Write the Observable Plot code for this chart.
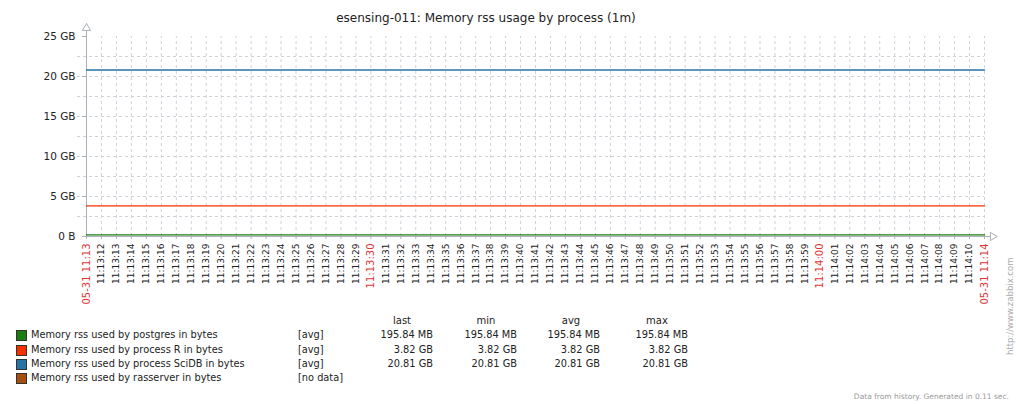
<!DOCTYPE html>
<html><head><meta charset="utf-8">
<script src="https://cdn.jsdelivr.net/npm/d3@7"></script>
<script src="https://cdn.jsdelivr.net/npm/@observablehq/plot@0.6"></script>
<style>
body{margin:0;background:#fff;font-family:"DejaVu Sans",sans-serif;}
#wrap{position:relative;width:1016px;height:404px;overflow:hidden;background:#fff}
#wrap svg{position:absolute;left:0;top:0}
.abs{position:absolute;white-space:nowrap;line-height:12px;color:#222}
</style></head><body><div id="wrap"></div>
<script>
const chartTitle = "esensing-011: Memory rss usage by process (1m)";
const seriesNames = ["Memory rss used by postgres in bytes","Memory rss used by process R in bytes","Memory rss used by process SciDB in bytes","Memory rss used by rasserver in bytes"];
const seriesColors = ["#1A7C11","#F63100","#2774A4","#A54F10"];
const seriesFunc = ["[avg]","[avg]","[avg]","[no data]"];
const seriesGB = [0.19125, 3.82, 20.81, null];
const lastLabels = ["195.84 MB","3.82 GB","20.81 GB",""];
const minLabels  = ["195.84 MB","3.82 GB","20.81 GB",""];
const avgLabels  = ["195.84 MB","3.82 GB","20.81 GB",""];
const maxLabels  = ["195.84 MB","3.82 GB","20.81 GB",""];
const statHeaders = ["last","min","avg","max"];
const yTicks = [0,5,10,15,20,25];
const yTickLabels = ["0 B","5 GB","10 GB","15 GB","20 GB","25 GB"];
const yGrid = [2.5,5,7.5,10,12.5,15,17.5,20,22.5];
const startTime = new Date(2018,4,31,11,13,11);
const endTime = new Date(2018,4,31,11,14,11);
const footerText = "Data from history. Generated in 0.11 sec.";
const sideText = "http://www.zabbix.com";

// one tick per second
const secTicks = d3.timeSecond.range(startTime, new Date(+endTime + 1000));
const redTicks = secTicks.filter((d,i) => i === 0 || i === secTicks.length-1 || d.getSeconds() === 30 || d.getSeconds() === 0);
const blackTicks = secTicks.filter(d => !redTicks.includes(d));
const fmtSec = d3.timeFormat("%H:%M:%S");
const fmtEdge = d3.timeFormat("%m-%d %H:%M");
const redFmt = d => (+d === +startTime || +d === +endTime) ? fmtEdge(d) : fmtSec(d);

const rows = [];
seriesNames.forEach((s,i) => {
  if (seriesGB[i] == null) return;
  rows.push({series:s, time:startTime, gb:seriesGB[i]});
  rows.push({series:s, time:endTime, gb:seriesGB[i]});
});

const gridCol = "#cdd3d9", axisCol = "#a9b1b9";
const plot = Plot.plot({
  width:1016, height:404,
  marginLeft:86, marginRight:32, marginTop:36, marginBottom:168,
  style:{fontFamily:"DejaVu Sans, sans-serif", background:"transparent", overflow:"visible"},
  x:{type:"time", domain:[startTime,endTime]},
  y:{domain:[0,25]},
  color:{domain:seriesNames, range:seriesColors},
  marks:[
    Plot.ruleY(yGrid, {stroke:gridCol, strokeDasharray:"3,3", x1:new Date(+startTime-600), x2:endTime, clip:false}),
    Plot.ruleX(secTicks.slice(1), {stroke:gridCol, strokeDasharray:"3,3", y1:0, y2:25}),
    Plot.ruleY([0], {stroke:axisCol, x1:startTime, x2:new Date(+endTime+450)}),
    Plot.ruleX([startTime], {stroke:axisCol, y1:0, y2:25.8}),
    Plot.dot([{t:startTime, v:26.05}], {x:"t", y:"v", symbol:"triangle", r:3, stroke:axisCol, fill:"white", strokeWidth:1}),
    Plot.dot([{t:new Date(+endTime+550), v:0}], {x:"t", y:"v", symbol:"triangle", rotate:90, r:3, stroke:axisCol, fill:"white", strokeWidth:1}),
    Plot.axisY(yTicks, {tickFormat:(d,i)=>yTickLabels[yTicks.indexOf(d)], tickSize:4, tickPadding:7, stroke:axisCol, fill:"#222", fontSize:10.5, label:null}),
    Plot.axisX(blackTicks, {tickRotate:-90, tickFormat:fmtSec, tickSize:3, tickPadding:4, stroke:axisCol, fill:"#222", fontSize:9, label:null}),
    Plot.axisX(redTicks, {tickRotate:-90, tickFormat:redFmt, tickSize:3, tickPadding:4, stroke:axisCol, fill:"#e03434", fontSize:10, label:null}),
    Plot.lineY(rows, {x:"time", y:"gb", stroke:"series", strokeWidth:1.3})
  ]
});
const wrap = document.getElementById("wrap");
wrap.appendChild(plot);

function addText(txt, css){
  const d = document.createElement("div");
  d.className = "abs";
  d.textContent = txt;
  Object.assign(d.style, css);
  wrap.appendChild(d);
  return d;
}
// title
addText(chartTitle, {left:"0px", width:"972px", textAlign:"center", top:"12px", fontSize:"12px"});
// legend headers
const colRight = [433,517,600,688];
const colCenter = [402,486,571,657];
statHeaders.forEach((h,i) => addText(h, {left:(colCenter[i]-40)+"px", width:"80px", textAlign:"center", top:"315px", fontSize:"10px"}));
const rowY = [335,350,364,378];
const cols = [lastLabels,minLabels,avgLabels,maxLabels];
seriesNames.forEach((s,i) => {
  const sq = document.createElement("div");
  Object.assign(sq.style, {position:"absolute", left:"16px", top:(rowY[i]-5)+"px", width:"9px", height:"9px", background:seriesColors[i], border:"1px solid #333"});
  wrap.appendChild(sq);
  addText(s, {left:"31px", top:(rowY[i]-6)+"px", fontSize:"9.8px"});
  addText(seriesFunc[i], {left:"298px", top:(rowY[i]-6)+"px", fontSize:"9.8px"});
  cols.forEach((c,j) => { if (c[i]) addText(c[i], {left:(colRight[j]-80)+"px", width:"80px", textAlign:"right", top:(rowY[i]-6)+"px", fontSize:"9.8px"}); });
});
addText(footerText, {right:"7px", top:"391px", fontSize:"7.5px", color:"#9a9a9a"});
const side = addText(sideText, {left:"1010px", top:"355px", fontSize:"8.5px", color:"#aaa", transformOrigin:"0 0", transform:"rotate(-90deg) translate(0,-6px)"});
</script>
</body></html>
